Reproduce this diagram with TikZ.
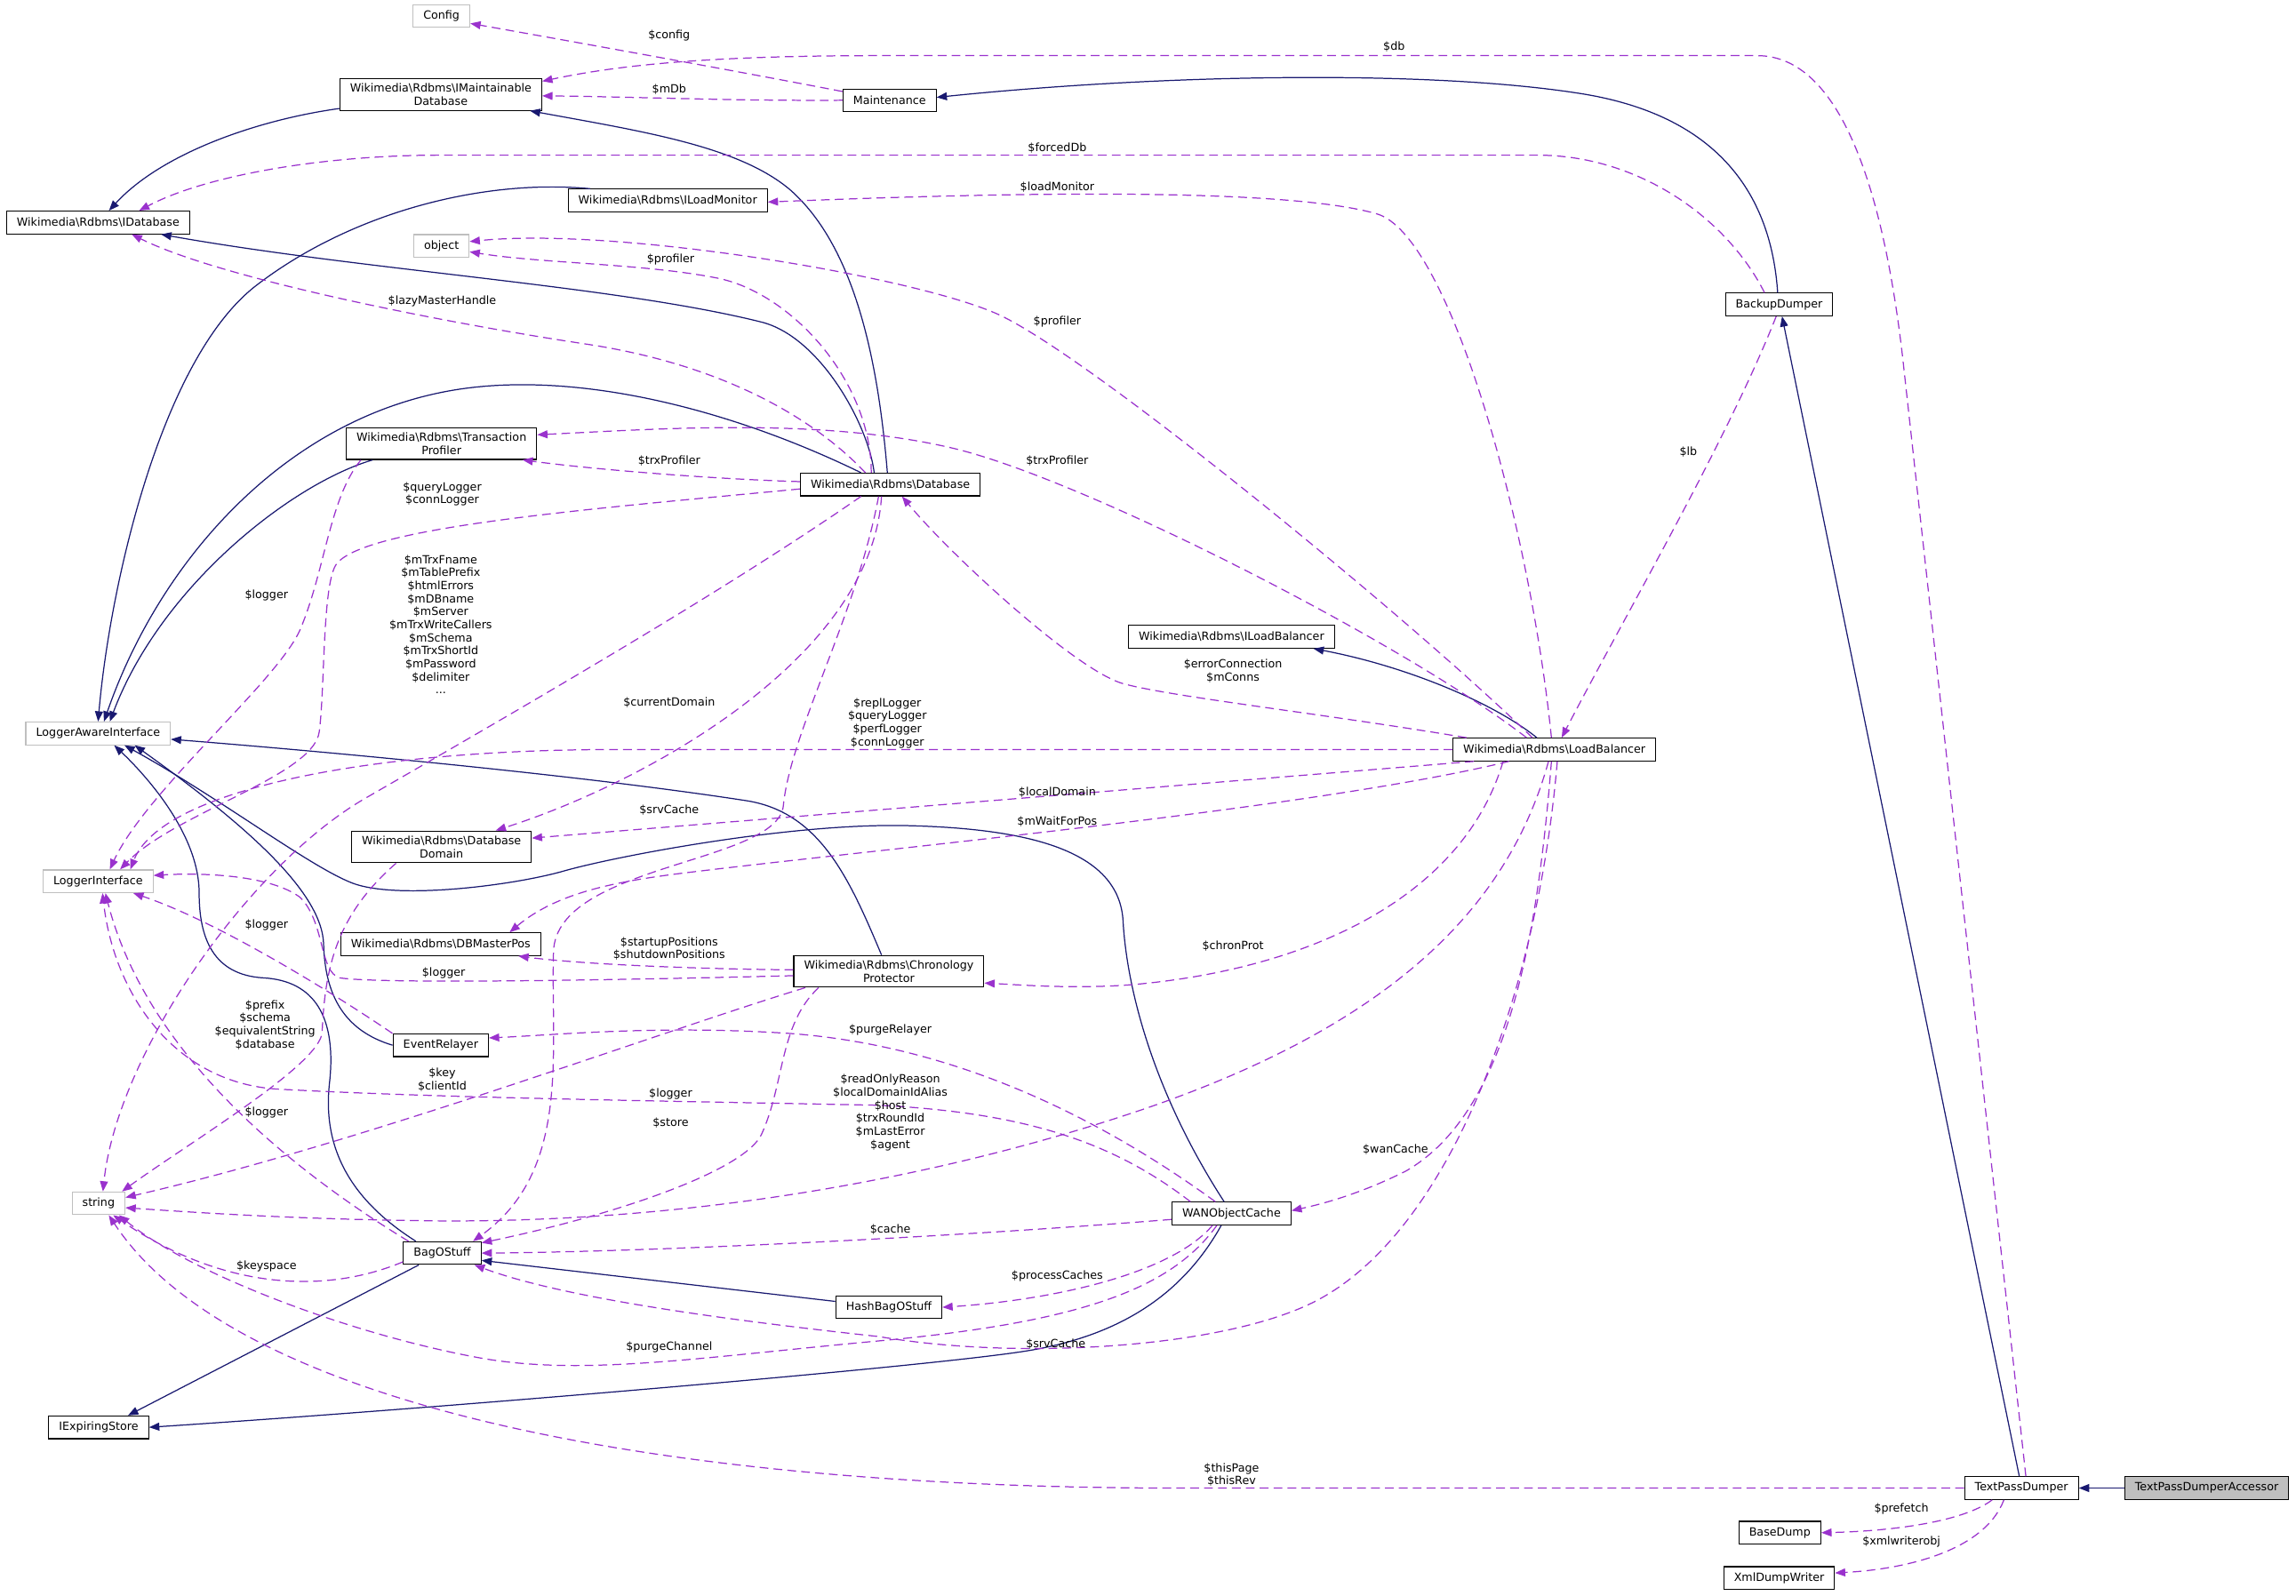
\documentclass[tikz,border=0pt]{standalone}
\usepackage{fontspec}
\setmainfont{DejaVu Sans}
\usetikzlibrary{arrows.meta}
\definecolor{edgeNavy}{RGB}{25,25,112}
\definecolor{edgeOrchid}{RGB}{154,50,205}
\definecolor{boxGray}{RGB}{191,191,191}
\newcommand{\rdbms}{Wikimedia\textbackslash Rdbms\textbackslash}

\begin{document}
\begin{tikzpicture}[x=1pt, y=-1pt, font=\fontsize{7.7}{8.9}\selectfont,
  cls/.style={draw=black, line width=0.7pt, fill=white, align=center,
              inner xsep=7pt, inner ysep=3.4pt, minimum height=15.5pt},
  ext/.style={cls, draw=boxGray},
  inh/.style={draw=edgeNavy, line width=0.75pt, -{Triangle[length=7pt,width=5.4pt]}},
  uses/.style={draw=edgeOrchid, line width=0.75pt, dash pattern=on 6pt off 3.5pt,
               -{Triangle[length=7pt,width=5.4pt]}},
  lbl/.style={align=center, inner sep=0pt}]
  \useasboundingbox (0,0) rectangle (1568,1090);

  % classes, left column
  \node[cls] (idb) at (67,152) {\rdbms IDatabase};
  \node[ext] (lai) at (67,501) {LoggerAwareInterface};
  \node[ext] (li)  at (67,602) {LoggerInterface};
  \node[ext] (str) at (67.3,822) {string};
  \node[cls] (ies) at (67.4,975) {IExpiringStore};
  % middle column
  \node[ext] (cfg)  at (301.5,11) {Config};
  \node[cls] (imdb) at (301,64.5) {\rdbms IMaintainable\\Database};
  \node[ext] (obj)  at (301.5,168) {object};
  \node[cls] (tp)   at (301.5,303) {\rdbms Transaction\\Profiler};
  \node[cls] (dd)   at (301.5,578.5) {\rdbms Database\\Domain};
  \node[cls] (dbmp) at (301,645) {\rdbms DBMasterPos};
  \node[cls] (er)   at (301,714) {EventRelayer};
  \node[cls] (bag)  at (302,856) {BagOStuff};
  \node[cls] (ilm)  at (456,137) {\rdbms ILoadMonitor};
  \node[cls] (maint) at (607.5,68.5) {Maintenance};
  \node[cls] (db)   at (608,331) {\rdbms Database};
  \node[cls] (cp)   at (607,663.5) {\rdbms Chronology\\Protector};
  \node[cls] (hbag) at (607,893) {HashBagOStuff};
  % right part
  \node[cls] (ilb)  at (841,435) {\rdbms ILoadBalancer};
  \node[cls] (wan)  at (841,829) {WANObjectCache};
  \node[cls] (lb)   at (1061.5,512) {\rdbms LoadBalancer};
  \node[cls] (bdump) at (1215,208) {BackupDumper};
  \node[cls] (basedump) at (1215.5,1047) {BaseDump};
  \node[cls] (xdw)  at (1215,1078) {XmlDumpWriter};
  \node[cls] (tpd)  at (1380.5,1016.5) {TextPassDumper};
  \node[cls, fill=boxGray] (tpda) at (1507,1016.5) {TextPassDumperAccessor};

  % inheritance
  \draw[inh] (imdb) .. controls (175,82) and (110,105) .. (idb);
  \draw[inh] ([xshift=-2pt]db.north) .. controls (600,250) and (585,170) .. (540,130)
     .. controls (505,100) and (440,90) .. (imdb);
  \draw[inh] ([xshift=-53pt]ilm.north) .. controls (330,122) and (240,145) .. (175,195)
     .. controls (110,245) and (75,400) .. (lai.north);
  \draw[inh] ([xshift=-11pt]db.north) .. controls (593,290) and (560,230) .. (520,220)
     .. controls (420,195) and (250,185) .. ([xshift=43pt]idb.south);
  \draw[inh] ([xshift=-20pt]db.north) .. controls (500,280) and (400,255) .. (320,265)
     .. controls (200,280) and (110,380) .. ([xshift=4pt]lai.north);
  \draw[inh] ([xshift=-47pt]tp.south) .. controls (200,330) and (110,400) .. ([xshift=8pt]lai.north);
  \draw[inh] ([xshift=-5pt]cp.north) .. controls (580,600) and (560,555) .. (510,547)
     .. controls (400,530) and (230,514) .. ([yshift=-4pt]lai.east);
  \draw[inh] ([xshift=-5pt]wan.north) .. controls (790,750) and (770,680) .. (767,630)
     .. controls (765,580) and (700,566) .. (620,564) .. controls (540,562) and (420,585) .. (385,595)
     .. controls (350,605) and (270,615) .. (240,603) .. controls (210,591) and (150,545) .. ([xshift=18pt]lai.south);
  \draw[inh] (er.west) .. controls (235,704) and (222,680) .. (221,645)
     .. controls (220,610) and (170,565) .. ([xshift=25pt]lai.south);
  \draw[inh] ([xshift=-18pt]bag.north) .. controls (240,820) and (220,785) .. (225,740)
     .. controls (230,695) and (215,670) .. (180,668) .. controls (145,666) and (136,640) .. (136,610)
     .. controls (136,570) and (100,530) .. ([xshift=11pt]lai.south);
  \draw[inh] ([xshift=-16pt]bag.south) -- ([xshift=20pt]ies.north);
  \draw[inh] ([xshift=-7pt]wan.south) .. controls (810,880) and (770,912) .. (700,923)
     .. controls (630,934) and (300,962) .. (ies.east);
  \draw[inh] ([yshift=4pt]hbag.west) -- ([yshift=-5pt]bag.east);
  \draw[inh] ([xshift=-12pt]lb.north) .. controls (1020,480) and (960,455) .. ([xshift=56pt]ilb.south);
  \draw[inh] (tpda) -- (tpd);
  \draw[inh] ([xshift=-1.5pt]tpd.north) -- ([xshift=2pt]bdump.south);
  \draw[inh] ([xshift=-1pt]bdump.north) .. controls (1210,140) and (1180,80) .. (1080,64)
     .. controls (980,48) and (800,50) .. ([yshift=2pt]maint.east);

  % members
  \draw[uses] ([yshift=6pt]maint.west) .. controls (500,48) and (400,30) .. ([yshift=-5pt]cfg.east);
  \draw[uses] (maint.west) .. controls (500,69) and (430,66) .. ([yshift=-1pt]imdb.east);
  \draw[uses] ([xshift=3pt]tpd.north) -- (1300,250) .. controls (1288,140) and (1260,38) .. (1200,38)
     -- (600,38) .. controls (480,38) and (420,45) .. ([yshift=9pt]imdb.east);
  \draw[uses] ([xshift=-10pt]bdump.north) .. controls (1180,150) and (1120,106) .. (1050,106)
     -- (300,106) .. controls (220,106) and (140,120) .. ([xshift=28pt]idb.north);
  \draw[uses] ([xshift=-2pt]lb.north) .. controls (1045,360) and (990,160) .. (940,146)
     .. controls (870,126) and (650,133) .. ([yshift=-1pt]ilm.east);
  \draw[uses] ([xshift=-15pt]lb.north) .. controls (960,420) and (740,240) .. (680,214)
     .. controls (620,188) and (420,155) .. ([yshift=3pt]obj.east);
  \draw[uses] ([xshift=-13pt]db.north) .. controls (595,260) and (540,200) .. (490,190)
     .. controls (440,180) and (370,180) .. ([yshift=-4pt]obj.east);
  \draw[uses] ([xshift=-17pt]db.north) .. controls (560,290) and (500,250) .. (400,235)
     .. controls (300,220) and (150,190) .. ([xshift=23pt]idb.south);
  \draw[uses] ([xshift=-19pt]lb.north) .. controls (960,440) and (740,327) .. (650,306)
     .. controls (560,285) and (450,293) .. ([yshift=6pt]tp.east);
  \draw[uses] ([yshift=2pt]db.west) .. controls (480,327) and (400,320) .. ([xshift=-10pt]tp.south east);
  \draw[uses] ([xshift=-2pt]bdump.south) .. controls (1180,300) and (1110,420) .. ([xshift=5pt]lb.north);
  \draw[uses] ([xshift=-55pt]tp.south) .. controls (225,340) and (222,390) .. (205,430)
     .. controls (190,465) and (100,540) .. ([xshift=8pt]li.north);
  \draw[uses] ([yshift=-3pt]db.west) .. controls (400,348) and (250,360) .. (230,385)
     .. controls (220,397.5) and (222,470) .. (218,500) .. controls (214,530) and (120,555) .. ([xshift=15pt]li.north);
  \draw[uses] ([xshift=-20pt]db.south) .. controls (500,400) and (380,470) .. (250,545)
     .. controls (170,591) and (80,720) .. ([xshift=3pt]str.north);
  \draw[uses] ([xshift=-6pt]db.south) .. controls (595,450) and (440,535) .. ([xshift=37pt]dd.north);
  \draw[uses] ([xshift=-60pt]lb.north) .. controls (900,487) and (800,476) .. (767,467)
     .. controls (735,458) and (650,380) .. ([xshift=8pt]db.south);
  \draw[uses] (lb.west) -- (420,512) .. controls (250,512) and (110,540) .. ([xshift=22pt]li.north);
  \draw[uses] ([xshift=-55pt]lb.south) -- ([yshift=6pt]dd.east);
  \draw[uses] ([xshift=-8pt]db.south) .. controls (585,420) and (540,500) .. (535,550)
     .. controls (532,590) and (380,590) .. (378,650) .. controls (376,720) and (390,800) .. ([xshift=21pt]bag.north);
  \draw[uses] ([xshift=-31pt]lb.south) .. controls (900,552) and (600,580) .. (470,596)
     .. controls (420,602) and (380,610) .. ([xshift=47pt]dbmp.north);
  \draw[uses] ([yshift=1pt]cp.west) .. controls (480,662) and (400,659) .. ([xshift=53pt]dbmp.south);
  \draw[uses] ([yshift=-3pt]cp.west) .. controls (400,670) and (260,672) .. (232,668)
     .. controls (218,664) and (222,630) .. (205,613) .. controls (185,598) and (140,596) .. ([yshift=4pt]li.east);
  \draw[uses] ([xshift=-35pt]lb.south) .. controls (1000,610) and (900,660) .. (780,672)
     .. controls (740,676) and (700,673) .. ([yshift=-8pt]cp.east);
  \draw[uses] ([xshift=-33pt]er.north) .. controls (230,680) and (150,630) .. ([xshift=24pt]li.south);
  \draw[uses] ([xshift=-31pt]dd.south) .. controls (230,625) and (222,660) .. (220,705)
     .. controls (219,727) and (130,780) .. ([xshift=16pt]str.north);
  \draw[uses] ([xshift=-11pt]wan.north) .. controls (760,770) and (660,715) .. (540,706)
     .. controls (450,700) and (380,707) .. ([yshift=5pt]er.east);
  \draw[uses] ([xshift=-57pt]cp.south) .. controls (450,705) and (250,780) .. ([yshift=4pt]str.east);
  \draw[uses] ([xshift=-28pt]wan.north) .. controls (760,780) and (700,760) .. (600,755)
     .. controls (450,752) and (300,750) .. (190,744) .. controls (120,740) and (78,680) .. ([xshift=3pt]li.south);
  \draw[uses] ([xshift=-23pt]bag.north) .. controls (200,800) and (100,720) .. ([xshift=5pt]li.south);
  \draw[uses] ([xshift=-48pt]cp.south) .. controls (532,700) and (536,740) .. (520,775)
     .. controls (508,800) and (420,830) .. ([yshift=7pt]bag.east);
  \draw[uses] ([xshift=-4pt]lb.south) .. controls (1030,620) and (950,700) .. (780,758)
     .. controls (620,812) and (450,835) .. (300,834) .. controls (200,833) and (130,828) .. ([yshift=-3pt]str.east);
  \draw[uses] ([xshift=-2pt]lb.south) .. controls (1050,640) and (1030,760) .. (960,800)
     .. controls (930,815) and (905,822) .. ([yshift=2pt]wan.east);
  \draw[uses] ([yshift=-4pt]wan.west) .. controls (650,845) and (450,855) .. (bag.east);
  \draw[uses] ([yshift=-6pt]bag.west) .. controls (220,885) and (150,880) .. ([xshift=10pt]str.south);
  \draw[uses] ([xshift=-13pt]wan.south) .. controls (800,870) and (720,888) .. (hbag.east);
  \draw[uses] ([xshift=-10pt]wan.south) .. controls (800,880) and (740,903) .. (600,916)
     .. controls (480,927) and (400,940) .. (330,928) .. controls (240,912) and (130,870) .. ([xshift=14pt]str.south);
  \draw[uses] ([xshift=2pt]lb.south) .. controls (1050,680) and (990,840) .. (900,888)
     .. controls (840,920) and (700,930) .. (600,913) .. controls (480,900) and (380,885) .. ([xshift=22pt]bag.south);
  \draw[uses] (tpd.west) -- (820,1016.5) .. controls (450,1018) and (160,960) .. ([xshift=7pt]str.south);
  \draw[uses] ([xshift=-20pt]tpd.south) .. controls (1340,1040) and (1290,1046) .. (basedump.east);
  \draw[uses] ([xshift=-12pt]tpd.south) .. controls (1355,1060) and (1300,1072) .. ([yshift=3.5pt]xdw.east);

  % member names
  \node[lbl] (l-config)   at (457,24)    {\$config};
  \node[lbl] (l-db)       at (952,32)    {\$db};
  \node[lbl] (l-mdb)      at (457,61)    {\$mDb};
  \node[lbl] (l-forceddb) at (722,101)   {\$forcedDb};
  \node[lbl] (l-loadmon)  at (722,128)   {\$loadMonitor};
  \node[lbl] (l-profdb)   at (458,177)   {\$profiler};
  \node[lbl] (l-lazy)     at (302,206)   {\$lazyMasterHandle};
  \node[lbl] (l-proflb)   at (722,220)   {\$profiler};
  \node[lbl] (l-lb)       at (1153,309)  {\$lb};
  \node[lbl] (l-trxdb)    at (457,315)   {\$trxProfiler};
  \node[lbl] (l-trxlb)    at (722,315)   {\$trxProfiler};
  \node[lbl] (l-qlog)     at (302,337.5) {\$queryLogger\\\$connLogger};
  \node[lbl] (l-tplog)    at (182,407)   {\$logger};
  \node[lbl] (l-dbstr)    at (301,426.5) {\$mTrxFname\\\$mTablePrefix\\\$htmlErrors\\\$mDBname\\\$mServer\\\$mTrxWriteCallers\\\$mSchema\\\$mTrxShortId\\\$mPassword\\\$delimiter\\...};
  \node[lbl] (l-conns)    at (842,458.5) {\$errorConnection\\\$mConns};
  \node[lbl] (l-curdom)   at (457,480)   {\$currentDomain};
  \node[lbl] (l-lblog)    at (606,494)   {\$replLogger\\\$queryLogger\\\$perfLogger\\\$connLogger};
  \node[lbl] (l-locdom)   at (722,541)   {\$localDomain};
  \node[lbl] (l-srvdb)    at (457,553.5) {\$srvCache};
  \node[lbl] (l-waitpos)  at (722,561)   {\$mWaitForPos};
  \node[lbl] (l-erlog)    at (182,632)   {\$logger};
  \node[lbl] (l-pos)      at (457,648)   {\$startupPositions\\\$shutdownPositions};
  \node[lbl] (l-chron)    at (842,646)   {\$chronProt};
  \node[lbl] (l-cplog)    at (303,665)   {\$logger};
  \node[lbl] (l-ddstr)    at (181,700)   {\$prefix\\\$schema\\\$equivalentString\\\$database};
  \node[lbl] (l-purgerel) at (608,703.5) {\$purgeRelayer};
  \node[lbl] (l-keys)     at (302,737.5) {\$key\\\$clientId};
  \node[lbl] (l-wanlog)   at (458,747)   {\$logger};
  \node[lbl] (l-baglog)   at (182,760)   {\$logger};
  \node[lbl] (l-store)    at (458,767)   {\$store};
  \node[lbl] (l-lbstr)    at (608,760)   {\$readOnlyReason\\\$localDomainIdAlias\\\$host\\\$trxRoundId\\\$mLastError\\\$agent};
  \node[lbl] (l-wancache) at (953,785.5) {\$wanCache};
  \node[lbl] (l-cache)    at (608,840)   {\$cache};
  \node[lbl] (l-keyspace) at (182,865)   {\$keyspace};
  \node[lbl] (l-proc)     at (722,872)   {\$processCaches};
  \node[lbl] (l-srvlb)    at (721,918)   {\$srvCache};
  \node[lbl] (l-purgech)  at (457,920)   {\$purgeChannel};
  \node[lbl] (l-this)     at (841,1007.5) {\$thisPage\\\$thisRev};
  \node[lbl] (l-prefetch) at (1298.5,1031) {\$prefetch};
  \node[lbl] (l-xmlw)     at (1298.5,1053) {\$xmlwriterobj};
\end{tikzpicture}
\end{document}
